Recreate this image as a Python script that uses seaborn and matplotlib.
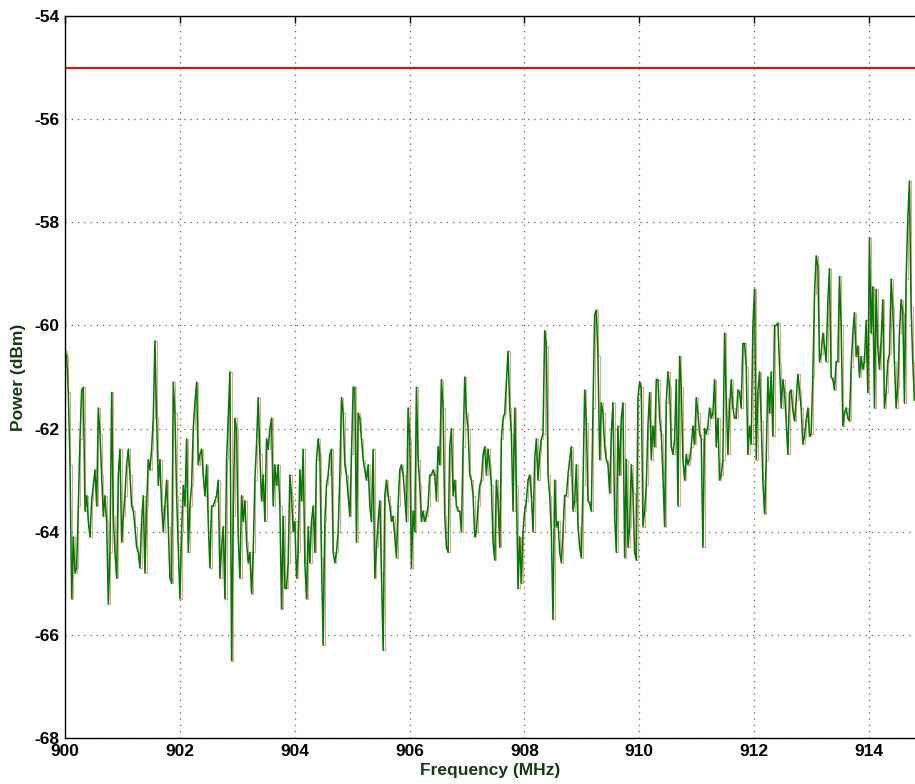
import numpy as np
import pandas as pd
import matplotlib
matplotlib.use("Agg")
import matplotlib.pyplot as plt
import seaborn as sns

# ---- data ----
f_start = 900.0          # MHz
f_step = 0.029           # MHz per sweep point
threshold_dbm = -55.0

power_a = [
    -60.5, -60.6, -61.3, -62.7, -65.3, -64.1, -64.8, -64.7, -63.5, -62.2,
    -61.25, -61.2, -63.6, -63.3, -63.8, -64.1, -63.4, -63.1, -62.8, -63.5,
    -61.6, -62.1, -62.9, -63.7, -63.3, -63.8, -65.4, -64.4, -61.3, -63.7,
    -64.4, -64.9, -62.9, -62.4, -64.2, -63.7, -63.3, -62.7, -62.4, -62.9,
    -63.5, -63.6, -63.9, -64.3, -64.4, -64.7, -63.8, -63.3, -64.8, -63.5,
    -62.6, -62.8, -62.4, -61.8, -60.3, -61.8, -63.1, -62.6, -63.5, -64.0,
    -63.5, -63.0, -63.9, -64.9, -65.0, -61.1, -61.7, -63.3, -64.3, -65.3,
    -64.0, -63.1, -63.5, -62.2, -64.4, -63.5, -63.1, -62.0, -61.5, -61.1,
    -62.7, -62.5, -62.4, -62.9, -63.3, -62.7, -63.8, -64.7, -63.5, -63.5,
    -63.4, -63.3, -63.0, -64.9, -64.3, -63.9, -65.3, -62.6, -61.8,
]
power_b = [
    -60.9, -66.5, -63.7, -61.8, -62.0, -64.1, -64.9, -63.3, -63.8, -63.4,
    -64.2, -64.6, -64.4, -65.2, -64.4, -63.0, -62.3, -61.4, -62.5, -63.4,
    -62.9, -63.8, -62.2, -62.4, -62.0, -61.8, -63.5, -62.7, -63.1, -62.7,
    -63.5, -65.5, -63.7, -65.1, -65.1, -64.6, -62.9, -63.3, -64.0, -63.8,
    -64.9, -64.4, -62.8, -63.4, -62.4, -64.6, -65.3, -63.9, -64.6, -63.8,
    -63.5, -64.4, -62.6, -62.2, -62.5, -64.5, -66.2, -63.8, -63.1, -62.9,
    -62.5, -62.4, -64.4, -64.6, -64.4, -64.0, -62.9, -61.4, -61.7, -62.7,
    -62.9, -63.3, -63.7, -62.5, -61.2, -61.2, -64.2, -61.7, -61.8, -62.2,
    -62.6, -62.8, -63.0, -62.7, -63.5, -63.8, -62.4, -64.9, -64.3, -63.8,
    -63.4, -64.8, -66.3, -63.3, -63.0, -63.3, -63.5, -63.8, -63.7, -64.1,
    -64.5, -63.5,
]
power_c = [
    -62.8, -62.7, -62.9, -63.3, -63.8, -61.6, -62.2, -64.7, -63.6, -64.0,
    -61.2, -62.6, -63.1, -63.8, -63.6, -63.8, -63.7, -63.5, -62.9, -62.9,
    -62.8, -62.9, -63.4, -62.35, -62.7, -61.05, -61.6, -63.7, -64.3, -64.4,
    -62.35, -62.0, -63.3, -63.0, -63.5, -63.6, -63.6, -64.0, -62.35, -61.0,
    -61.7, -62.0, -62.9, -63.0, -63.3, -64.1, -64.0, -63.5, -63.1, -63.0,
    -62.5, -62.35, -62.9, -62.4, -62.7, -63.1, -64.2, -64.55, -63.0, -63.4,
    -64.3, -62.2, -61.8, -61.7, -61.1, -60.5, -61.6, -62.1, -63.6, -61.6,
    -63.1, -65.1, -64.1, -65.0, -64.0, -63.6, -63.4, -63.0, -62.9, -63.3,
    -64.0, -62.6, -62.2, -63.0, -62.5, -62.2, -62.1, -60.1, -60.4, -62.9,
    -63.3, -64.0, -65.7, -63.0, -63.9, -63.8, -64.4, -64.6, -64.0, -63.3,
    -63.3, -62.9,
]
power_d = [
    -62.6, -62.35, -63.6, -63.4, -62.7, -63.9, -64.3, -64.5, -63.1, -61.25,
    -61.9, -63.4, -63.45, -63.6, -61.6, -59.8, -59.7, -60.6, -62.6, -61.5,
    -61.7, -62.35, -62.6, -62.7, -63.25, -62.1, -61.5, -63.7, -64.4, -61.95,
    -62.9, -61.8, -61.5, -64.5, -62.6, -64.3, -63.9, -62.7, -63.25, -64.4,
    -64.55, -61.4, -61.1, -61.2, -63.9, -63.6, -63.1, -61.95, -61.3, -62.6,
    -61.95, -62.35, -61.05, -61.05, -61.8, -62.1, -62.9, -63.9, -61.5, -60.9,
    -61.2, -62.35, -62.5, -62.2, -61.05, -63.5, -60.6, -61.2, -62.6, -63.0,
    -62.5, -62.7, -62.6, -62.35, -61.95, -62.3, -61.4, -61.7, -62.1, -62.2,
    -64.3, -62.0, -62.1, -61.95, -61.6, -61.8, -61.7, -61.05, -62.35, -61.8,
    -63.0, -62.9, -62.6, -60.15, -61.4, -62.5, -61.6, -61.05, -61.6, -61.8,
    -61.8, -61.25,
]
power_e = [
    -61.3, -61.6, -60.35, -60.35, -60.8, -62.5, -61.95, -62.3, -60.0, -59.3,
    -62.6, -61.3, -60.9, -61.85, -63.0, -63.65, -62.6, -61.0, -61.7, -60.9,
    -62.15, -60.0, -60.0, -59.95, -60.75, -61.6, -61.05, -61.3, -61.85, -62.5,
    -61.3, -61.25, -61.65, -61.85, -61.45, -60.95, -61.25, -61.6, -62.3, -62.15,
    -61.85, -61.6, -62.15, -62.1, -61.0, -59.4, -58.65, -58.85, -60.7, -60.55,
    -60.15, -60.4, -60.7, -59.55, -58.9, -61.0, -61.05, -61.25, -60.7, -60.7,
    -59.05, -60.0, -61.95, -61.7, -61.6, -61.8, -61.85, -60.8, -60.15, -59.75,
    -60.6, -60.4, -61.0, -60.6, -60.85, -60.7, -59.9, -61.3, -58.3, -60.15,
    -59.25, -61.6, -59.3, -60.4, -60.85, -60.3, -59.5, -61.6, -61.3, -60.7,
    -60.55, -59.1, -59.65, -60.7, -61.6, -61.2, -60.15, -59.5, -59.75, -61.5,
    -59.1, -57.95, -57.2, -59.65, -60.7, -61.45,
]

x_ticks = [900, 902, 904, 906, 908, 910, 912, 914]
y_ticks = [-68, -66, -64, -62, -60, -58, -56, -54]

power = np.array(power_a + power_b + power_c + power_d + power_e)
freq = f_start + f_step * np.arange(len(power))
df = pd.DataFrame({"Frequency (MHz)": freq, "Power (dBm)": power})

# ---- figure ----
sns.set_style("white")
plt.rcParams["font.family"] = ["Liberation Sans", "DejaVu Sans"]

W, H = 915, 784
fig = plt.figure(figsize=(W / 100, H / 100), dpi=100)
ax = fig.add_axes([65 / W, 46 / H, 850 / W, 722 / H])

sns.lineplot(data=df, x="Frequency (MHz)", y="Power (dBm)", ax=ax,
             color="#d85050", lw=0.8, alpha=0.55, estimator=None,
             drawstyle="steps-post")
sns.lineplot(data=df, x="Frequency (MHz)", y="Power (dBm)", ax=ax,
             color="#007a00", lw=1.1, estimator=None)
ax.axhline(threshold_dbm, color="#ff0000", lw=1.4)

ax.set_xlim(900, 914.8)
ax.set_ylim(-68, -54)
ax.set_xticks(x_ticks)
ax.set_yticks(y_ticks)
ax.set_xticklabels([str(v) for v in x_ticks])
ax.set_yticklabels([str(v) for v in y_ticks])

ax.grid(True, linestyle=(0, (1, 4)), color="#7a5a40", lw=0.9)
ax.set_axisbelow(True)

ax.tick_params(direction="in", length=5, width=1, top=True, right=False,
               labelsize=12.5, pad=4, colors="black")
for lab in ax.get_xticklabels() + ax.get_yticklabels():
    lab.set_fontweight("bold")

for side in ["left", "bottom", "top"]:
    ax.spines[side].set_visible(True)
    ax.spines[side].set_color("black")
    ax.spines[side].set_linewidth(1.0)
ax.spines["right"].set_visible(False)

ax.set_xlabel("Frequency (MHz)", fontsize=12.5, fontweight="bold",
              color="#183818", labelpad=3)
ax.set_ylabel("Power (dBm)", fontsize=12.5, fontweight="bold",
              color="#183818", labelpad=6)

fig.savefig("out.png", dpi=100)
